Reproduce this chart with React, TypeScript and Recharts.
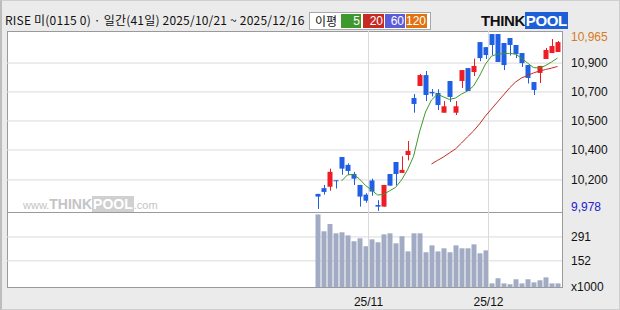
import { ComposedChart, Bar, Line, XAxis, YAxis, CartesianGrid, ReferenceLine } from 'recharts';

// 41 trading days, 2025/10/21 ~ 2025/12/16
const DATES = [
  '10/21', '10/22', '10/23', '10/24', '10/27', '10/28', '10/29', '10/30', '10/31',
  '11/03', '11/04', '11/05', '11/06', '11/07', '11/10', '11/11', '11/12', '11/13', '11/14',
  '11/17', '11/18', '11/19', '11/20', '11/21', '11/24', '11/25', '11/26', '11/27', '11/28',
  '12/01', '12/02', '12/03', '12/04', '12/05', '12/08', '12/09', '12/10', '12/11', '12/12',
  '12/15', '12/16',
];

const OPEN = [
  10073, 10105, 10113, 10149, 10279, 10235, 10184, 10123, 10069, 10148, 10011, 10002, 10184, 10251,
  10190, 10290, 10608, 10675, 10736, 10642, 10636, 10526, 10703, 10526, 10703, 10775, 10753, 10920,
  10892, 10965, 10965, 10915, 10943, 10904, 10859, 10792, 10697, 10748, 10826, 10859, 10865,
];
const HIGH = [
  10073, 10123, 10214, 10149, 10279, 10243, 10196, 10123, 10077, 10158, 10038, 10123, 10184, 10251,
  10283, 10368, 10630, 10742, 10759, 10658, 10657, 10591, 10703, 10591, 10764, 10775, 10828, 10920,
  10892, 10965, 10965, 10915, 10943, 10904, 10859, 10792, 10697, 10787, 10887, 10937, 10926,
];
const LOW = [
  9989, 10069, 10091, 10103, 10180, 10180, 10123, 10002, 10024, 10063, 9978, 10002, 10119, 10120,
  10190, 10260, 10526, 10675, 10591, 10617, 10541, 10526, 10586, 10513, 10664, 10647, 10731, 10814,
  10826, 10848, 10809, 10764, 10845, 10831, 10781, 10689, 10625, 10692, 10826, 10859, 10865,
];
const CLOSE = [
  10058, 10084, 10196, 10145, 10214, 10201, 10158, 10058, 10035, 10086, 10002, 10123, 10119, 10184,
  10207, 10313, 10575, 10736, 10625, 10634, 10569, 10562, 10614, 10562, 10764, 10647, 10787, 10831,
  10848, 10904, 10809, 10792, 10904, 10853, 10803, 10720, 10653, 10787, 10876, 10898, 10920,
];
const MA5 = [
  null, null, null, null, 10145, 10179, 10182, 10156, 10120, 10095, 10067, 10070, 10090, 10109,
  10151, 10207, 10282, 10419, 10530, 10597, 10630, 10614, 10600, 10608, 10630, 10647, 10675, 10731,
  10798, 10842, 10853, 10856, 10857, 10853, 10831, 10803, 10778, 10775, 10789, 10809, 10831,
];
const MA20 = [
  null, null, null, null, null, null, null, null, null, null, null, null, null, null,
  null, null, null, null, null, 10240, 10260, 10279, 10302, 10324, 10357, 10391, 10424, 10463,
  10508, 10547, 10586, 10625, 10664, 10697, 10720, 10734, 10748, 10759, 10767, 10775, 10784,
];
// volume, x1000
const VOLUME = [
  422, 324, 366, 312, 318, 300, 266, 283, 237, 277, 260, 306, 312, 254, 295, 207, 312, 312, 202, 242,
  207, 225, 202, 242, 225, 225, 248, 196, 213, 21, 51, 21, 16, 45, 21, 45, 27, 39, 56, 21, 21,
];

const PRICE_TICKS = [10965, 10803, 10642, 10480, 10318, 10151, 9978];
const PRICE_LABELS = ['10,965', '10,900', '10,700', '10,500', '10,400', '10,200', '9,978'];
const VOL_TICKS = [291, 152, 0];
const VOL_LABELS = ['291', '152', 'x1000'];
const X_TICKS = ['11/03', '12/01'];
const X_LABELS = ['25/11', '25/12'];
const MA_PERIODS = ['5', '20', '60', '120'];

const RED = '#ee1c24';
const BLUE = '#1f5fe4';
const MA_COLORS = ['#3f982c', '#c62a22', '#5c5cd8', '#e0720f'];
const GRID = '#dadada';
const FONT = "'Liberation Sans', Arial, sans-serif";
const KFONT = "'Noto Sans CJK KR', sans-serif";

// empty slots on the left of the 92-day window
const LEAD = 51;
const rows = [
  ...Array.from({ length: LEAD }, (_, k) => ({ d: `-${k}` })),
  ...DATES.map((d, i) => ({
    d, o: OPEN[i], h: HIGH[i], l: LOW[i], c: CLOSE[i], ma5: MA5[i], ma20: MA20[i], v: VOLUME[i],
  })),
] as any[];

function Candle(props: any) {
  const { x, y, width, height, payload } = props;
  if (!payload || payload.h == null) return null;
  const top = Math.min(y, y + height);
  const bot = Math.max(y, y + height);
  const k = (bot - top) / (payload.h - payload.l);
  const py = (v: number) => top + (payload.h - v) * k;
  const color = payload.c >= payload.o ? RED : BLUE;
  const cx = Math.floor(x + width / 2);
  const bTop = py(Math.max(payload.o, payload.c));
  const bBot = py(Math.min(payload.o, payload.c));
  return (
    <g>
      <rect x={cx} y={top} width={1} height={bot - top} fill={color} />
      <rect x={x} y={bTop} width={width} height={Math.max(1, bBot - bTop)} fill={color} />
    </g>
  );
}

function PriceTick({ x, y, payload }: any) {
  const i = PRICE_TICKS.indexOf(payload.value);
  const first = i === 0;
  const last = i === PRICE_TICKS.length - 1;
  return (
    <text x={x + 1} y={y + (first ? 3 : last ? -4 : 0)} dy="0.36em" fontSize={12} fontFamily={FONT}
      fill={first ? '#d97a22' : last ? '#2222cc' : '#111'}>
      {PRICE_LABELS[i]}
    </text>
  );
}

function VolTick({ x, y, payload }: any) {
  const i = VOL_TICKS.indexOf(payload.value);
  return (
    <text x={x + 1} y={y} dy="0.36em" fontSize={12} fontFamily={FONT} fill="#111">{VOL_LABELS[i]}</text>
  );
}

function DateTick({ x, y, payload }: any) {
  const i = X_TICKS.indexOf(payload.value);
  return (
    <text x={x - 3} y={y + 11} textAnchor="middle" fontSize={12} fontFamily={FONT} fill="#111">{X_LABELS[i]}</text>
  );
}

export default function App() {
  return (
    <div style={{ position: 'relative', width: 620, height: 310, background: '#ebebeb', overflow: 'hidden' }}>
      <style>{'body{margin:0}'}</style>
      <div style={{ position: 'absolute', left: 0, top: 0, width: 620, height: 310, boxSizing: 'border-box', border: '1px solid #cfcfcf', borderLeft: '2px solid #bdbdbd' }} />

      {/* header */}
      <div style={{ position: 'absolute', left: 5, top: 12, fontFamily: KFONT, fontSize: 12, lineHeight: '16px', letterSpacing: 0.2, color: '#111', whiteSpace: 'nowrap' }}>
        RISE 미(0115 0) · 일간(41일) 2025/10/21 ~ 2025/12/16
      </div>
      <div style={{ position: 'absolute', left: 309, top: 12, width: 122, height: 18, boxSizing: 'border-box', background: '#fff', border: '1px solid #a8a8a8' }}>
        <span style={{ position: 'absolute', left: 5, top: 0, fontFamily: KFONT, fontSize: 12, lineHeight: '16px', color: '#111' }}>이평</span>
        {MA_PERIODS.map((p, i) => (
          <span key={p} style={{ position: 'absolute', left: [31, 53, 75, 96][i], top: 1, width: [20, 21, 20, 21][i], height: 14, background: MA_COLORS[i], color: '#fff', fontFamily: FONT, fontSize: 12, lineHeight: '14px', textAlign: 'right', boxSizing: 'border-box', paddingRight: 1 }}>{p}</span>
        ))}
      </div>
      <div style={{ position: 'absolute', left: 481, top: 13, fontFamily: FONT, fontWeight: 900, fontSize: 15, lineHeight: '16px', whiteSpace: 'nowrap', letterSpacing: -0.4 }}>
        <span style={{ color: '#111' }}>THINK</span>
        <span style={{ color: '#fff', background: '#1d5fd6', padding: '0 1px' }}>POOL</span>
      </div>

      {/* plot frame */}
      <div style={{ position: 'absolute', left: 7, top: 31, width: 556, height: 257, boxSizing: 'border-box', background: '#fff', border: '1px solid #9a9a9a' }} />
      <div style={{ position: 'absolute', left: 7, top: 212, width: 556, height: 1, background: '#9a9a9a' }} />

      {/* watermark */}
      <div style={{ position: 'absolute', left: 23, top: 197, fontFamily: FONT, color: '#c4c4c4', whiteSpace: 'nowrap', lineHeight: '14px' }}>
        <span style={{ fontSize: 11 }}>www.</span>
        <span style={{ fontSize: 14, fontWeight: 900 }}>THINK</span>
        <span style={{ fontSize: 14, fontWeight: 900, color: '#fff', background: '#d0d0d0', padding: '0 1px' }}>POOL</span>
        <span style={{ fontSize: 11 }}>.com</span>
      </div>

      {/* price panel */}
      <div style={{ position: 'absolute', left: 7, top: 25 }}>
        <ComposedChart width={613} height={196} data={rows} margin={{ top: 6, right: 0, bottom: 9, left: 0 }}>
          <CartesianGrid horizontalValues={PRICE_TICKS.slice(1, 6)} vertical={false} stroke={GRID} />
          <XAxis dataKey="d" hide padding={{ left: 1.5, right: 1.5 }} />
          <YAxis orientation="right" width={58} domain={[9972, 10982]} allowDataOverflow ticks={PRICE_TICKS}
            interval={0} tickLine={false} axisLine={false} tick={<PriceTick />} />
          {X_TICKS.map(t => (
            <ReferenceLine key={t} x={t} position="start" stroke={GRID} />
          ))}
          <Bar dataKey={(r: any) => (r.h == null ? null : [r.l, r.h])} barSize={5} shape={<Candle />} isAnimationActive={false} />
          <Line dataKey="ma20" stroke={MA_COLORS[1]} strokeWidth={1} dot={false} isAnimationActive={false} />
          <Line dataKey="ma5" stroke={MA_COLORS[0]} strokeWidth={1} dot={false} isAnimationActive={false} />
        </ComposedChart>
      </div>

      {/* volume panel */}
      <div style={{ position: 'absolute', left: 7, top: 212 }}>
        <ComposedChart width={613} height={98} data={rows} margin={{ top: 0, right: 0, bottom: 0, left: 0 }}>
          <CartesianGrid horizontalValues={VOL_TICKS.slice(0, 2)} vertical={false} stroke={GRID} />
          <XAxis dataKey="d" padding={{ left: 1.5, right: 1.5 }} height={23} ticks={X_TICKS} interval={0}
            tickLine={false} axisLine={false} tick={<DateTick />} />
          <YAxis orientation="right" width={58} domain={[0, 436]} ticks={VOL_TICKS} interval={0}
            tickLine={false} axisLine={false} tick={<VolTick />} />
          {X_TICKS.map(t => (
            <ReferenceLine key={t} x={t} position="start" stroke={GRID} />
          ))}
          <Bar dataKey="v" barSize={5} fill="#a2abc4" isAnimationActive={false} />
        </ComposedChart>
      </div>
    </div>
  );
}
